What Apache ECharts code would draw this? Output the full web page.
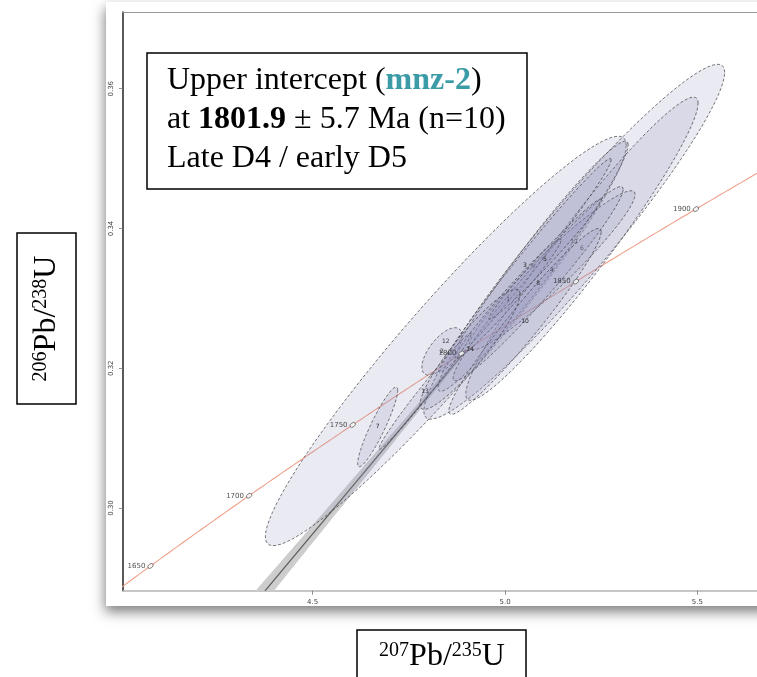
<!DOCTYPE html>
<html>
<head>
<meta charset="utf-8">
<script src="https://cdn.jsdelivr.net/npm/echarts@6/dist/echarts.min.js"></script>
<style>
  html, body { margin: 0; padding: 0; background: #fff; }
  #chart { width: 757px; height: 677px; }
</style>
</head>
<body>
<div id="chart"></div>
<script>
// U-Pb concordia diagram for monazite mnz-2 (Wetherill space)

// Decay constants, per Ma
const LAMBDA_238 = 1.55125e-4;
const LAMBDA_235 = 9.8485e-4;

// Axis ticks
const xTicks = [4.5, 5.0, 5.5];
const yTicks = [0.30, 0.32, 0.34, 0.36];

// Concordia age marks (Ma)
const concordiaAges = [1650, 1700, 1750, 1800, 1850, 1900];

// Spot analyses: 207Pb/235U, 206Pb/238U, half-extents of the error ellipses and error correlation
const spotIds = ['12', '11', '6', '9', '4', '8', '2', '7', '3', '1', '5', '13', '10', '14'];
const pb207u235 = [4.846, 5.180, 5.200, 5.073, 5.122, 5.086, 4.836, 4.669, 5.052, 5.008, 5.104, 4.792, 5.052, 4.909];
const err207 = [0.469, 0.391, 0.302, 0.247, 0.216, 0.221, 0.052, 0.052, 0.224, 0.138, 0.146, 0.120, 0.198, 0.130];
const pb206u238 = [0.3239, 0.3381, 0.3371, 0.3346, 0.3340, 0.3321, 0.3224, 0.3116, 0.3347, 0.3299, 0.3356, 0.3167, 0.3267, 0.3227];
const err206 = [0.0293, 0.0254, 0.0217, 0.0179, 0.0114, 0.0139, 0.0034, 0.0057, 0.0153, 0.0086, 0.0086, 0.0083, 0.0133, 0.0086];
const rhos = [0.956, 0.954, 0.960, 0.971, 0.953, 0.972, 0.66, 0.917, 0.989, 0.982, 0.987, 0.988, 0.965, 0.917];

// Discordia regression: intercept ages (Ma) and confidence envelope shape
const upperAge = 1801.9;
const upperErr = 5.7;
const lowerAge = 0;
const envelopeCentreX = 5.0;
const envelopeMinHalfWidth = 0.0002;
const envelopeSpread = 0.0025;

const X_MIN = 4.007, X_MAX = 5.655;
const Y_MIN = 0.28816, Y_MAX = 0.37098;

function concordiaPoint(t) {
  return [Math.expm1(LAMBDA_235 * t), Math.expm1(LAMBDA_238 * t)];
}

// Concordia curve through the plotted window
const concordiaCurve = [];
for (let t = 1600; t <= 1960; t += 2) concordiaCurve.push(concordiaPoint(t));

const ageMarks = concordiaAges.map(a => { const p = concordiaPoint(a); return [p[0], p[1], a]; });

const ellipseRows = spotIds.map((id, i) => [pb207u235[i], err207[i], pb206u238[i], err206[i], rhos[i], i]);

const chart = echarts.init(document.getElementById('chart'), null, { renderer: 'canvas' });

const serif = 'Liberation Serif, Times New Roman, serif';

const titleRich = {
  m: { fontFamily: serif, fontSize: 32, lineHeight: 32, fill: '#000' },
  s: { fontFamily: serif, fontSize: 20, lineHeight: 20, verticalAlign: 'top', fill: '#000' }
};

chart.setOption({
  animation: false,
  backgroundColor: '#fff',
  grid: { left: 123, top: 12, width: 634, height: 578.7, outerBoundsMode: 'none' },
  xAxis: [{
    type: 'value', min: X_MIN, max: X_MAX,
    axisLine: { show: true, lineStyle: { color: '#b4b4b4', width: 1.5 } },
    axisTick: { show: true, customValues: xTicks, length: 4, lineStyle: { color: '#777', width: 0.8 } },
    axisLabel: { customValues: xTicks, fontSize: 7, color: '#444', margin: 8, fontFamily: 'DejaVu Sans',
      formatter: v => v.toFixed(1) },
    splitLine: { show: false }
  }, {
    type: 'value', min: X_MIN, max: X_MAX, position: 'top',
    axisLine: { show: true, onZero: false, lineStyle: { color: '#999', width: 1.2 } },
    axisTick: { show: false }, axisLabel: { show: false }, splitLine: { show: false }
  }],
  yAxis: {
    type: 'value', min: Y_MIN, max: Y_MAX,
    axisLine: { show: true, lineStyle: { color: '#222', width: 1.5 } },
    axisTick: { show: true, customValues: yTicks, length: 4, lineStyle: { color: '#777', width: 0.8 } },
    axisLabel: { customValues: yTicks, fontSize: 7, color: '#444', margin: 8, rotate: 90, fontFamily: 'DejaVu Sans',
      formatter: v => v.toFixed(2) },
    splitLine: { show: false }
  },
  graphic: [
    { type: 'rect', z: -10, shape: { x: 106, y: 2, width: 690, height: 604 },
      style: { fill: '#fff', shadowBlur: 12, shadowOffsetY: 6, shadowOffsetX: -1, shadowColor: 'rgba(0,0,0,0.5)' } },
    // annotation box
    { type: 'rect', z: 50, shape: { x: 147, y: 53, width: 380, height: 136 },
      style: { fill: '#fff', stroke: '#000', lineWidth: 1.5 } },
    { type: 'text', z: 51, x: 167, y: 61,
      style: {
        text: '{r|Upper intercept (}{t|mnz-2}{r|)}\n{r|at }{b|1801.9}{r| ± 5.7 Ma (n=10)}\n{r|Late D4 / early D5}',
        rich: {
          r: { fontFamily: serif, fontSize: 32, lineHeight: 39, fill: '#000' },
          t: { fontFamily: serif, fontSize: 32, lineHeight: 39, fontWeight: 'bold', fill: '#3b9ba6' },
          b: { fontFamily: serif, fontSize: 32, lineHeight: 39, fontWeight: 'bold', fill: '#000' }
        }
      } },
    // y axis title
    { type: 'rect', z: 50, shape: { x: 17, y: 233, width: 59, height: 171 },
      style: { fill: '#fff', stroke: '#000', lineWidth: 1.5 } },
    { type: 'text', z: 51, x: 47, y: 318.5, rotation: Math.PI / 2,
      style: { text: '{s|206}{m|Pb/}{s|238}{m|U}', align: 'center', verticalAlign: 'middle', rich: titleRich } },
    // x axis title
    { type: 'rect', z: 50, shape: { x: 357, y: 630, width: 169, height: 70 },
      style: { fill: '#fff', stroke: '#000', lineWidth: 1.5 } },
    { type: 'text', z: 51, x: 442, y: 657,
      style: { text: '{s|207}{m|Pb/}{s|235}{m|U}', align: 'center', verticalAlign: 'middle', rich: titleRich } }
  ],
  series: [
    {
      // discordia line with its confidence envelope
      type: 'custom', z: 1, silent: true,
      data: [[upperAge, lowerAge, upperErr]],
      renderItem(params, api) {
        const lo = concordiaPoint(api.value(1));
        const up = concordiaPoint(api.value(0));
        const slope = (up[1] - lo[1]) / (up[0] - lo[0]);
        const yAt = x => lo[1] + slope * (x - lo[0]);
        const half = x => Math.sqrt(envelopeMinHalfWidth ** 2 + (envelopeSpread * (x - envelopeCentreX)) ** 2);
        const upper = [], lower = [];
        const x0 = 4.2, x1 = up[0];
        for (let k = 0; k <= 60; k++) {
          const x = x0 + (x1 - x0) * k / 60;
          upper.push(api.coord([x, yAt(x) + half(x)]));
          lower.push(api.coord([x, yAt(x) - half(x)]));
        }
        const cs = params.coordSys;
        return {
          type: 'group',
          clipPath: { type: 'rect', shape: { x: cs.x, y: cs.y, width: cs.width, height: cs.height } },
          children: [
            { type: 'polygon', shape: { points: upper.concat(lower.reverse()) }, style: { fill: '#cdcdcd' } },
            { type: 'polyline', shape: { points: [api.coord([x0, yAt(x0)]), api.coord([x1, yAt(x1)])] },
              style: { stroke: '#5a5a5a', lineWidth: 1.2, fill: null } }
          ]
        };
      }
    },
    {
      type: 'line', z: 2, data: concordiaCurve, showSymbol: false, silent: true,
      lineStyle: { color: '#f0a08a', width: 1.1 }, clip: true
    },
    {
      type: 'custom', z: 3, silent: true,
      data: ellipseRows,
      encode: { x: 0, y: 2 },
      renderItem(params, api) {
        const cx = api.value(0), sx = api.value(1), cy = api.value(2), sy = api.value(3), r = api.value(4);
        const q = Math.sqrt(1 - r * r);
        const pts = [];
        for (let k = 0; k < 90; k++) {
          const t = 2 * Math.PI * k / 90;
          pts.push(api.coord([cx + sx * Math.cos(t), cy + sy * (r * Math.cos(t) + q * Math.sin(t))]));
        }
        const c = api.coord([cx, cy]);
        return {
          type: 'group',
          children: [
            { type: 'polygon', shape: { points: pts },
              style: { fill: 'rgba(150,150,190,0.2)', stroke: '#3c3c3c', lineWidth: 0.7, lineDash: [3, 2] } },
            { type: 'text', x: c[0], y: c[1],
              style: { text: spotIds[params.dataIndex], fontSize: 6, fontFamily: 'DejaVu Sans', fill: '#222',
                align: 'center', verticalAlign: 'middle' } }
          ]
        };
      }
    },
    {
      type: 'scatter', z: 4, data: ageMarks, silent: true,
      symbol: 'circle', symbolSize: [6, 4], symbolRotate: 35,
      itemStyle: { color: '#fff', borderColor: '#333', borderWidth: 0.7 },
      label: { show: true, position: 'left', distance: 1, fontSize: 7, color: '#222', fontFamily: 'DejaVu Sans',
        formatter: p => String(p.value[2]) }
    }
  ]
});
</script>
</body>
</html>
